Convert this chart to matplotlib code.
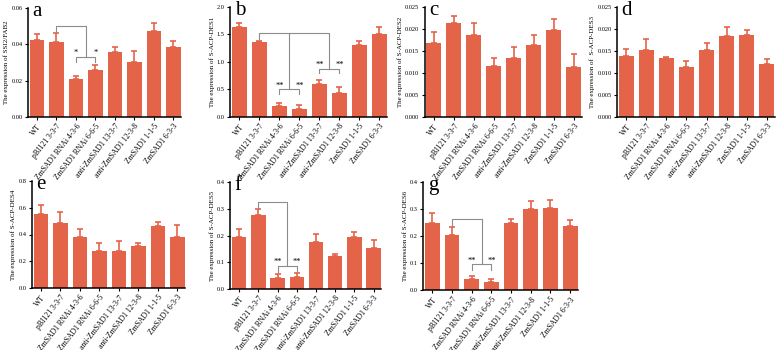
import matplotlib
matplotlib.use("Agg")
import matplotlib.pyplot as plt

plt.rcParams['font.family'] = ['Liberation Serif', 'DejaVu Serif']

# sample names
labels = ['WT', 'pBI121 3-3-7', 'ZmSAD1 RNAi 4-3-6', 'ZmSAD1 RNAi 6-6-5',
          'anti-ZmSAD1 13-3-7', 'anti-ZmSAD1 12-3-8', 'ZmSAD1 1-1-5', 'ZmSAD1 6-3-3']
labels_g = ['WT', 'pBI121 3-3-7', 'ZmSAD RNAi 4-3-6', 'ZmSAD1 RNAi 6-6-5',
            'anti-ZmSAD1 13-3-7', 'anti-ZmSAD1 12-3-8', 'ZmSAD1 1-1-5', 'ZmSAD1 6-3-3']

# values (mean, upper error)
ssi2_mean = [0.0424, 0.0412, 0.0207, 0.0258, 0.0357, 0.0305, 0.0473, 0.0387]
ssi2_err = [0.0032, 0.0048, 0.0020, 0.0027, 0.0030, 0.0058, 0.0043, 0.0030]
des1_mean = [1.64, 1.36, 0.20, 0.15, 0.60, 0.44, 1.30, 1.50]
des1_err = [0.07, 0.03, 0.06, 0.06, 0.07, 0.10, 0.09, 0.14]
des2_mean = [0.0168, 0.0213, 0.0186, 0.0116, 0.0135, 0.0164, 0.0197, 0.0114]
des2_err = [0.0026, 0.0017, 0.0028, 0.0018, 0.0023, 0.0023, 0.0025, 0.0028]
des3_mean = [0.0138, 0.0153, 0.0134, 0.0114, 0.0152, 0.0184, 0.0186, 0.0121]
des3_err = [0.0017, 0.0025, 0.0003, 0.0014, 0.0017, 0.0021, 0.0012, 0.0011]
des4_mean = [0.55, 0.485, 0.38, 0.28, 0.275, 0.315, 0.46, 0.38]
des4_err = [0.07, 0.08, 0.06, 0.06, 0.08, 0.025, 0.035, 0.09]
des5_mean = [0.195, 0.278, 0.040, 0.045, 0.175, 0.125, 0.195, 0.155]
des5_err = [0.030, 0.020, 0.018, 0.015, 0.030, 0.005, 0.020, 0.030]
des6_mean = [0.250, 0.205, 0.040, 0.030, 0.248, 0.300, 0.305, 0.237]
des6_err = [0.037, 0.030, 0.013, 0.010, 0.015, 0.030, 0.030, 0.022]

bar_color = '#E4644A'
line_color = '#8c8c8c'

fig = plt.figure(figsize=(7.78, 3.5), dpi=100)


def make_panel(rect, mean, err, ylim, yticks, fmt, ylabel, letter, names):
    ax = fig.add_axes(rect)
    x = range(len(mean))
    ax.bar(x, mean, width=0.75, color=bar_color, zorder=2)
    ax.errorbar(x, mean, yerr=[[0] * len(err), err], fmt='none', ecolor=bar_color,
                elinewidth=1.2, capsize=2.5, capthick=1.2, zorder=1)
    ax.set_xlim(-0.46, 7.4)
    ax.set_ylim(*ylim)
    ax.set_yticks(yticks)
    ax.set_yticklabels([fmt.format(t) for t in yticks], fontsize=4.6)
    ax.set_xticks(list(x))
    ax.set_xticklabels(names, rotation=52, ha='right', rotation_mode='anchor', fontsize=5.5)
    ax.set_ylabel(ylabel, fontsize=5.0, labelpad=1.5)
    for s in ['top', 'right']:
        ax.spines[s].set_visible(False)
    for s in ['left', 'bottom']:
        ax.spines[s].set_linewidth(1.1)
    ax.tick_params(length=2.5, width=0.8, pad=1.5)
    ax.text(0.03, 0.925, letter, transform=ax.transAxes, fontsize=15, va='baseline', ha='left')
    return ax


def bracket(ax, x_from, y_top, y_from, x_a, x_b, y_low, tick, star):
    # line from control bar over to the pair, then down to the pair bracket
    xm = (x_a + x_b) / 2
    ax.plot([x_from, x_from, xm, xm], [y_from, y_top, y_top, y_low], color=line_color, lw=0.8)
    ax.plot([x_a, x_a, x_b, x_b], [y_low - tick, y_low, y_low, y_low - tick], color=line_color, lw=0.8)
    ax.text(x_a, y_low, star, ha='center', va='bottom', fontsize=6)
    ax.text(x_b, y_low, star, ha='center', va='bottom', fontsize=6)


axa = make_panel([0.036, 0.666, 0.197, 0.311], ssi2_mean, ssi2_err, (0, 0.06),
                 [0, 0.02, 0.04, 0.06], '{:.2f}', 'The expression of SSI2/FAB2', 'a', labels)
bracket(axa, 1, 0.050, 0.0465, 2, 3, 0.0329, 0.0025, '*')

axb = make_panel([0.296, 0.666, 0.202, 0.314], des1_mean, des1_err, (0, 2.0),
                 [0, 0.5, 1.0, 1.5, 2.0], '{:.1f}', 'The expression of S-ACP-DES1', 'b', labels)
axb.plot([1, 1, 4.5, 4.5], [1.42, 1.53, 1.53, 0.88], color=line_color, lw=0.8)
axb.plot([2.5, 2.5], [1.53, 0.50], color=line_color, lw=0.8)
for xa, xb, yl in [(2, 3, 0.50), (4, 5, 0.88)]:
    axb.plot([xa, xa, xb, xb], [yl - 0.09, yl, yl, yl - 0.09], color=line_color, lw=0.8)
    axb.text(xa, yl, '**', ha='center', va='bottom', fontsize=6)
    axb.text(xb, yl, '**', ha='center', va='bottom', fontsize=6)

make_panel([0.546, 0.666, 0.202, 0.314], des2_mean, des2_err, (0, 0.025),
           [0, 0.005, 0.010, 0.015, 0.020, 0.025], '{:.3f}', 'The expression of S-ACP-DES2', 'c', labels)
make_panel([0.793, 0.666, 0.203, 0.314], des3_mean, des3_err, (0, 0.025),
           [0, 0.005, 0.010, 0.015, 0.020, 0.025], '{:.3f}', 'The expression of  S-ACP-DES3', 'd', labels)

make_panel([0.041, 0.177, 0.197, 0.306], des4_mean, des4_err, (0, 0.8),
           [0, 0.2, 0.4, 0.6, 0.8], '{:.1f}', 'The expression of S-ACP-DES4', 'e', labels)

axf = make_panel([0.296, 0.174, 0.194, 0.306], des5_mean, des5_err, (0, 0.4),
                 [0, 0.1, 0.2, 0.3, 0.4], '{:.1f}', 'The expression of S-ACP-DES5', 'f', labels)
bracket(axf, 1, 0.325, 0.30, 2, 3, 0.085, 0.02, '**')

axg = make_panel([0.544, 0.171, 0.199, 0.309], des6_mean, des6_err, (0, 0.4),
                 [0, 0.1, 0.2, 0.3, 0.4], '{:.1f}', 'The expression of S-ACP-DES6', 'g', labels_g)
bracket(axg, 1, 0.265, 0.238, 2, 3, 0.095, 0.02, '**')

fig.savefig('out.png', dpi=100)
